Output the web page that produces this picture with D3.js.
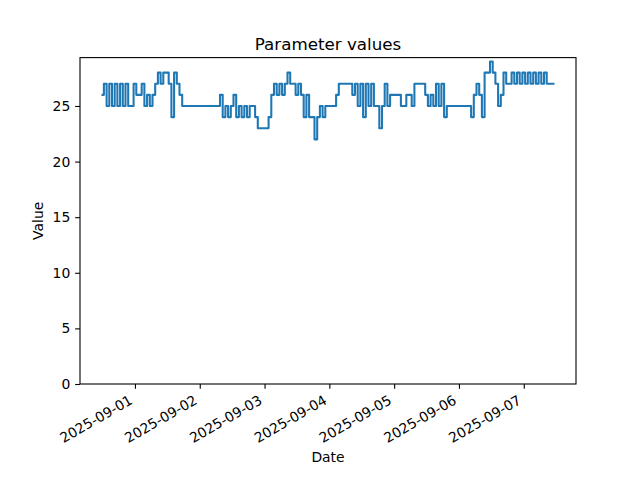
<!DOCTYPE html>
<html>
<head>
<meta charset="utf-8">
<script src="https://cdn.jsdelivr.net/npm/d3@7"></script>
<style>
  html, body { margin: 0; padding: 0; background: #fff; }
  svg { display: block; font-family: "DejaVu Sans", sans-serif; }
</style>
</head>
<body>
<svg id="chart" width="640" height="480"></svg>
<script>
// ---- data ----
const startTime = "2025-08-31T12:00:00Z";   // first sample, hourly samples
const values = [
  26,27,25,27,25,27,25,27,25,27,
  25,25,27,26,26,27,25,26,25,26,
  27,28,27,28,28,27,24,28,27,26,
  25,25,25,25,25,25,25,25,25,25,
  25,25,25,25,26,24,25,24,25,26,
  24,25,24,25,24,25,25,24,23,23,
  23,23,24,26,27,26,27,26,27,28,
  27,27,26,27,26,24,26,24,24,22,
  24,25,24,25,25,25,25,26,27,27,
  27,27,27,26,27,25,27,24,27,25,
  27,25,25,23,25,27,25,26,26,26,
  26,25,25,26,26,25,27,27,27,27,
  26,25,26,25,27,25,27,24,25,25,
  25,25,25,25,25,25,25,24,26,27,
  26,24,28,28,29,28,27,25,26,28,
  27,27,28,27,28,27,28,27,28,27,
  28,27,28,27,28,27,27,27
];
const xTickLabels = ["2025-09-01","2025-09-02","2025-09-03","2025-09-04","2025-09-05","2025-09-06","2025-09-07"];
const yTickValues = [0, 5, 10, 15, 20, 25];
const titleText = "Parameter values";
const xLabelText = "Date";
const yLabelText = "Value";

// ---- build series ----
const t0 = new Date(startTime).getTime();
const series = values.map((v, i) => ({ date: new Date(t0 + i * 3600 * 1000), value: v }));

// ---- layout ----
const mLeft = 80, mRight = 576, mTop = 57.6, mBottom = 384;
const svg = d3.select("#chart");

const xExt = d3.extent(series, d => d.date);
const span = xExt[1] - xExt[0];
const x = d3.scaleUtc()
  .domain([new Date(+xExt[0] - 0.05 * span), new Date(+xExt[1] + 0.05 * span)])
  .range([mLeft, mRight]);

const yMin = d3.min(series, d => d.value), yMax = d3.max(series, d => d.value);
const y = d3.scaleLinear()
  .domain([0, yMax + 0.05 * (yMax - yMin)])
  .range([mBottom, mTop]);

// line
const line = d3.line().curve(d3.curveStep).x(d => x(d.date)).y(d => y(d.value));
svg.append("clipPath").attr("id", "plotclip")
  .append("rect").attr("x", mLeft).attr("y", mTop).attr("width", mRight - mLeft).attr("height", mBottom - mTop);
svg.append("path")
  .datum(series)
  .attr("clip-path", "url(#plotclip)")
  .attr("fill", "none")
  .attr("stroke", "#1f77b4")
  .attr("stroke-width", 2.08)
  .attr("stroke-linejoin", "round")
  .attr("stroke-linecap", "square")
  .attr("d", line);

// frame
svg.append("rect")
  .attr("x", mLeft).attr("y", mTop)
  .attr("width", mRight - mLeft).attr("height", mBottom - mTop)
  .attr("fill", "none").attr("stroke", "#000").attr("stroke-width", 1.1);

// x axis
const xTicks = xTickLabels.map(s => new Date(s + "T00:00:00Z"));
const xAxis = d3.axisBottom(x)
  .tickValues(xTicks)
  .tickSize(4.86)
  .tickPadding(4.86)
  .tickFormat(d3.utcFormat("%Y-%m-%d"));
const gx = svg.append("g").attr("transform", `translate(0,${mBottom})`).call(xAxis);
gx.select(".domain").remove();
gx.selectAll(".tick line").attr("stroke", "#000").attr("stroke-width", 1.1);
gx.selectAll(".tick text")
  .attr("fill", "#000")
  .attr("font-size", "13.9px")
  .attr("font-family", "DejaVu Sans, sans-serif")
  .attr("text-anchor", "end")
  .attr("dy", null)
  .attr("y", null)
  .attr("transform", "translate(-2,19) rotate(-30)");

// y axis
const yAxis = d3.axisLeft(y)
  .tickValues(yTickValues)
  .tickSize(4.86)
  .tickPadding(4.86)
  .tickFormat(d3.format("d"));
const gy = svg.append("g").attr("transform", `translate(${mLeft},0)`).call(yAxis);
gy.select(".domain").remove();
gy.selectAll(".tick line").attr("stroke", "#000").attr("stroke-width", 1.1);
gy.selectAll(".tick text")
  .attr("fill", "#000")
  .attr("font-size", "13.9px")
  .attr("font-family", "DejaVu Sans, sans-serif");

// title and labels
svg.append("text")
  .attr("x", (mLeft + mRight) / 2).attr("y", mTop - 8)
  .attr("text-anchor", "middle")
  .attr("font-size", "16.7px")
  .attr("fill", "#000")
  .text(titleText);

svg.append("text")
  .attr("x", (mLeft + mRight) / 2).attr("y", 462)
  .attr("text-anchor", "middle")
  .attr("font-size", "13.9px")
  .attr("fill", "#000")
  .text(xLabelText);

svg.append("text")
  .attr("transform", `translate(43,${(mTop + mBottom) / 2}) rotate(-90)`)
  .attr("text-anchor", "middle")
  .attr("font-size", "13.9px")
  .attr("fill", "#000")
  .text(yLabelText);
</script>
</body>
</html>
